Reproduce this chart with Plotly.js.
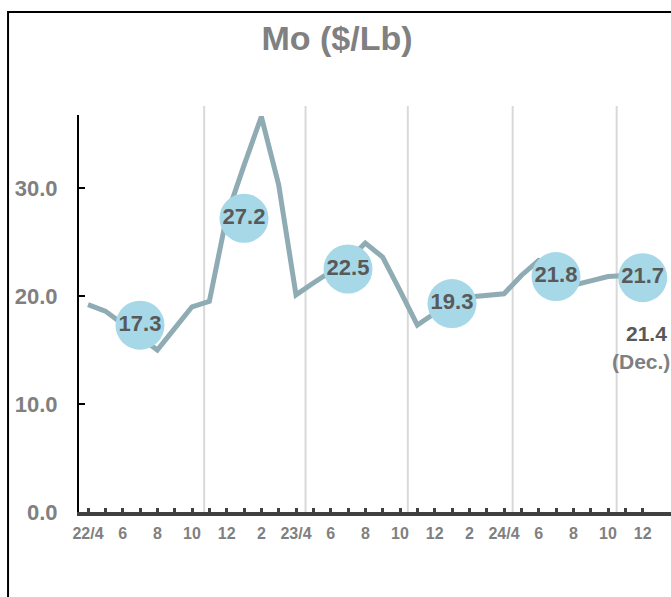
<!DOCTYPE html>
<html>
<head>
<meta charset="utf-8">
<script src="https://cdn.plot.ly/plotly-3.0.1.min.js"></script>
<style>
  html, body { margin: 0; padding: 0; overflow: hidden; background: #fff; }
  #chart { width: 720px; height: 597px; }
</style>
</head>
<body>
<div id="chart"></div>
<script>
// Monthly Mo price, Apr 2022 (index 0) to Dec 2024 (index 32)
const moPrice = [19.2, 18.6, 17.4, 16.2, 15.0, 17.0, 19.0, 19.5, 27.4, 32.1, 36.6, 30.3,
                 20.1, 21.2, 22.2, 23.3, 24.9, 23.6, 20.5, 17.3, 18.4, 19.4, 19.9, 20.0,
                 20.2, 21.9, 23.3, 23.0, 21.0, 21.4, 21.8, 21.9, 21.4];
// Half-year averages (bubbles)
const avgIndex = [3, 9, 15, 21, 27, 32];
const avgValue = [17.3, 27.2, 22.5, 19.3, 21.8, 21.7];
// X tick labels (every second month)
const tickLabels = ['22/4', '6', '8', '10', '12', '2', '23/4', '6', '8', '10', '12', '2', '24/4', '6', '8', '10', '12'];
// Half-year separators
const separators = [6.7, 12.55, 18.45, 24.5, 30.5];
const yTicks = [0, 10, 20, 30];
const decNote = {value: '21.4', label: '(Dec.)', index: 32};

const monthIdx = moPrice.map((_, i) => i);
const tickText = monthIdx.map(i => (i % 2 === 0 ? tickLabels[i / 2] : ''));

const FONT = 'Liberation Sans, Arial, sans-serif';

const traces = [
  {
    x: monthIdx, y: moPrice, type: 'scatter', mode: 'lines',
    line: {color: '#8fabb3', width: 5},
    hoverinfo: 'skip'
  },
  {
    x: avgIndex, y: avgValue, type: 'scatter', mode: 'markers+text',
    marker: {size: 49, color: '#a6d8e8', line: {width: 0}},
    text: avgValue.map(v => v.toFixed(1)),
    textposition: 'middle center',
    textfont: {family: FONT, size: 22, color: '#595959', weight: 'bold'},
    cliponaxis: false,
    hoverinfo: 'skip'
  }
];

const shapes = separators.map(s => ({
  type: 'line', xref: 'x', yref: 'paper', x0: s, x1: s, y0: 0, y1: 1.0227,
  line: {color: '#d9d9d9', width: 2}, layer: 'below'
}));
shapes.push({
  type: 'rect', xref: 'paper', yref: 'paper',
  x0: -0.1169, x1: 1.3, y0: -0.3, y1: 1.2594,
  line: {color: '#000', width: 2}, fillcolor: 'rgba(0,0,0,0)'
});

const layout = {
  width: 720, height: 597,
  margin: {l: 79, r: 34, t: 115, b: 85},
  paper_bgcolor: '#fff', plot_bgcolor: 'rgba(0,0,0,0)',
  showlegend: false,
  title: {
    text: 'Mo ($/Lb)',
    font: {family: FONT, size: 34, color: '#808080', weight: 'bold'},
    xref: 'container', yref: 'container', x: 337 / 720, y: 1 - 38 / 597,
    xanchor: 'center', yanchor: 'middle'
  },
  xaxis: {
    range: [-0.52, 34.5],
    tickvals: monthIdx, ticktext: tickText,
    ticks: 'inside', ticklen: 4, tickwidth: 3, tickcolor: '#404040',
    showline: true, linecolor: '#404040', linewidth: 4,
    showgrid: false, zeroline: false,
    tickfont: {family: FONT, size: 16, color: '#808080', weight: 'bold'},
    ticklabelstandoff: 4,
    fixedrange: true
  },
  yaxis: {
    range: [0, 36.76],
    tickvals: yTicks, tickformat: '.1f',
    ticks: 'inside', ticklen: 6, tickwidth: 2, tickcolor: '#000',
    showline: true, linecolor: '#000', linewidth: 2,
    showgrid: false, zeroline: false,
    tickfont: {family: FONT, size: 22, color: '#808080', weight: 'bold'},
    ticklabelstandoff: 15,
    fixedrange: true
  },
  shapes: shapes,
  annotations: [
    {x: decNote.index, y: 16.5, xref: 'x', yref: 'y', text: decNote.value, showarrow: false,
     xanchor: 'center', yanchor: 'middle', xshift: 4,
     font: {family: FONT, size: 21, color: '#595959', weight: 'bold'}},
    {x: decNote.index, y: 13.9, xref: 'x', yref: 'y', text: decNote.label, showarrow: false,
     xanchor: 'center', yanchor: 'middle', xshift: -2,
     font: {family: FONT, size: 21, color: '#7f7f7f', weight: 'bold'}}
  ]
};

Plotly.newPlot('chart', traces, layout, {displayModeBar: false, staticPlot: true});
</script>
</body>
</html>
